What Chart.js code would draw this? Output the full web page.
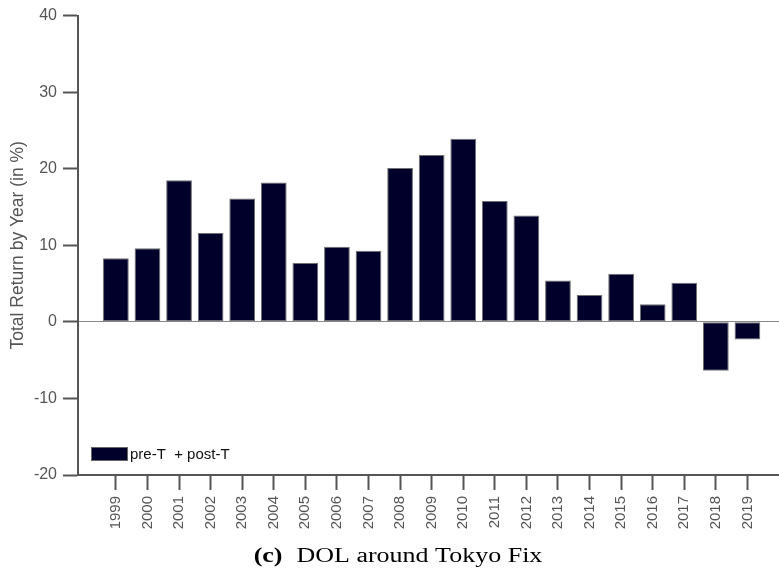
<!DOCTYPE html>
<html lang="en">
<head>
    <meta charset="UTF-8">
    <title>DOL around Tokyo Fix</title>
    <script src="https://cdn.jsdelivr.net/npm/chart.js@4.4.0/dist/chart.umd.min.js"></script>
    <style>
        html, body { margin: 0; padding: 0; background: #fff; }
        .wrap { width: 779px; height: 573px; }
    </style>
</head>
<body>
<div class="wrap">
    <canvas id="chart" width="779" height="573"></canvas>
</div>
<script>
    // data
    const years = [1999, 2000, 2001, 2002, 2003, 2004, 2005, 2006, 2007, 2008, 2009,
                   2010, 2011, 2012, 2013, 2014, 2015, 2016, 2017, 2018, 2019]
    const totalReturn = [8.3, 9.6, 18.5, 11.6, 16.1, 18.2, 7.7, 9.8, 9.3, 20.1, 21.8,
                         23.9, 15.8, 13.9, 5.4, 3.5, 6.3, 2.3, 5.1, -6.4, -2.3]
    const yTicks = [-20, -10, 0, 10, 20, 30, 40]
    const seriesLabel = 'pre-T  + post-T'
    const yTitle = 'Total Return by Year (in %)'
    const caption = ['(c)', 'DOL around Tokyo Fix']

    const BAR = '#00002a'
    const AXIS = '#555555'
    const SANS = '"Liberation Sans", Arial, sans-serif'

    // legend box inside the plot + caption under the axis
    const extras = {
        id: 'extras',
        afterDraw(chart) {
            const ctx = chart.ctx
            const area = chart.chartArea
            ctx.save()
            // legend
            const bx = area.left + 13, by = area.bottom - 28
            ctx.fillStyle = BAR
            ctx.fillRect(bx, by, 37, 14)
            ctx.strokeStyle = '#666'
            ctx.lineWidth = 1
            ctx.strokeRect(bx + 0.5, by + 0.5, 36, 13)
            ctx.fillStyle = '#111'
            ctx.font = '15px ' + SANS
            ctx.textBaseline = 'middle'
            ctx.fillText(chart.data.datasets[0].label, bx + 39, by + 7.5)

            // caption
            ctx.textBaseline = 'alphabetic'
            const boldFont = 'bold 20px "Liberation Serif", "DejaVu Serif", serif'
            const normFont = '20px "Liberation Serif", "DejaVu Serif", serif'
            ctx.font = boldFont
            const w1 = ctx.measureText(caption[0]).width
            ctx.font = normFont
            const w2 = ctx.measureText(caption[1]).width
            const sx = 1.3
            const gap = 14 / sx
            const total = (w1 + gap + w2) * sx
            const x0 = 398 - total / 2
            ctx.translate(x0, 562)
            ctx.scale(sx, 1)
            ctx.fillStyle = '#000'
            ctx.font = boldFont
            ctx.fillText(caption[0], 0, 0)
            ctx.font = normFont
            ctx.fillText(caption[1], w1 + gap, 0)
            ctx.restore()
        }
    }

    function renderChart() {
        const ctx = document.querySelector('#chart').getContext('2d')
        new Chart(ctx, {
            type: 'bar',
            data: {
                datasets: [{
                    label: seriesLabel,
                    data: years.map((yr, i) => ({ x: yr, y: totalReturn[i] })),
                    backgroundColor: BAR,
                    borderColor: '#707070',
                    borderWidth: 1,
                    borderSkipped: false,
                    categoryPercentage: 1,
                    barPercentage: 0.815
                }]
            },
            options: {
                responsive: false,
                animation: false,
                layout: { padding: { top: 15, right: 0, left: 0, bottom: 0 } },
                plugins: {
                    legend: { display: false },
                    tooltip: { enabled: false }
                },
                scales: {
                    x: {
                        type: 'linear',
                        min: 1997.8,
                        max: 2020,
                        offset: false,
                        afterBuildTicks: axis => { axis.ticks = years.map(v => ({ value: v })) },
                        afterFit: scale => { scale.height = 98 },
                        border: { display: true, color: AXIS, width: 2 },
                        grid: {
                            offset: false,
                            drawOnChartArea: false,
                            drawTicks: true,
                            tickLength: 15,
                            tickColor: AXIS,
                            tickWidth: 2
                        },
                        ticks: {
                            autoSkip: false,
                            minRotation: 90,
                            maxRotation: 90,
                            padding: 6,
                            color: AXIS,
                            font: { family: SANS, size: 15 },
                            callback: v => String(v)
                        }
                    },
                    y: {
                        min: -20,
                        max: 40,
                        afterBuildTicks: axis => { axis.ticks = yTicks.map(v => ({ value: v })) },
                        afterFit: scale => { scale.width = 78 },
                        border: { display: true, color: AXIS, width: 2 },
                        grid: {
                            drawOnChartArea: true,
                            color: c => (c.tick && c.tick.value === 0) ? '#8a8a8a' : 'rgba(0,0,0,0)',
                            lineWidth: 1,
                            drawTicks: true,
                            tickLength: 15,
                            tickColor: AXIS,
                            tickWidth: 2
                        },
                        ticks: {
                            padding: 6,
                            color: AXIS,
                            font: { family: SANS, size: 16 },
                            callback: v => String(v)
                        },
                        title: {
                            display: true,
                            text: yTitle,
                            color: AXIS,
                            padding: { top: 8, bottom: 0 },
                            font: { family: SANS, size: 17.5 }
                        }
                    }
                }
            },
            plugins: [extras]
        })
    }
    renderChart()
</script>
</body>
</html>
